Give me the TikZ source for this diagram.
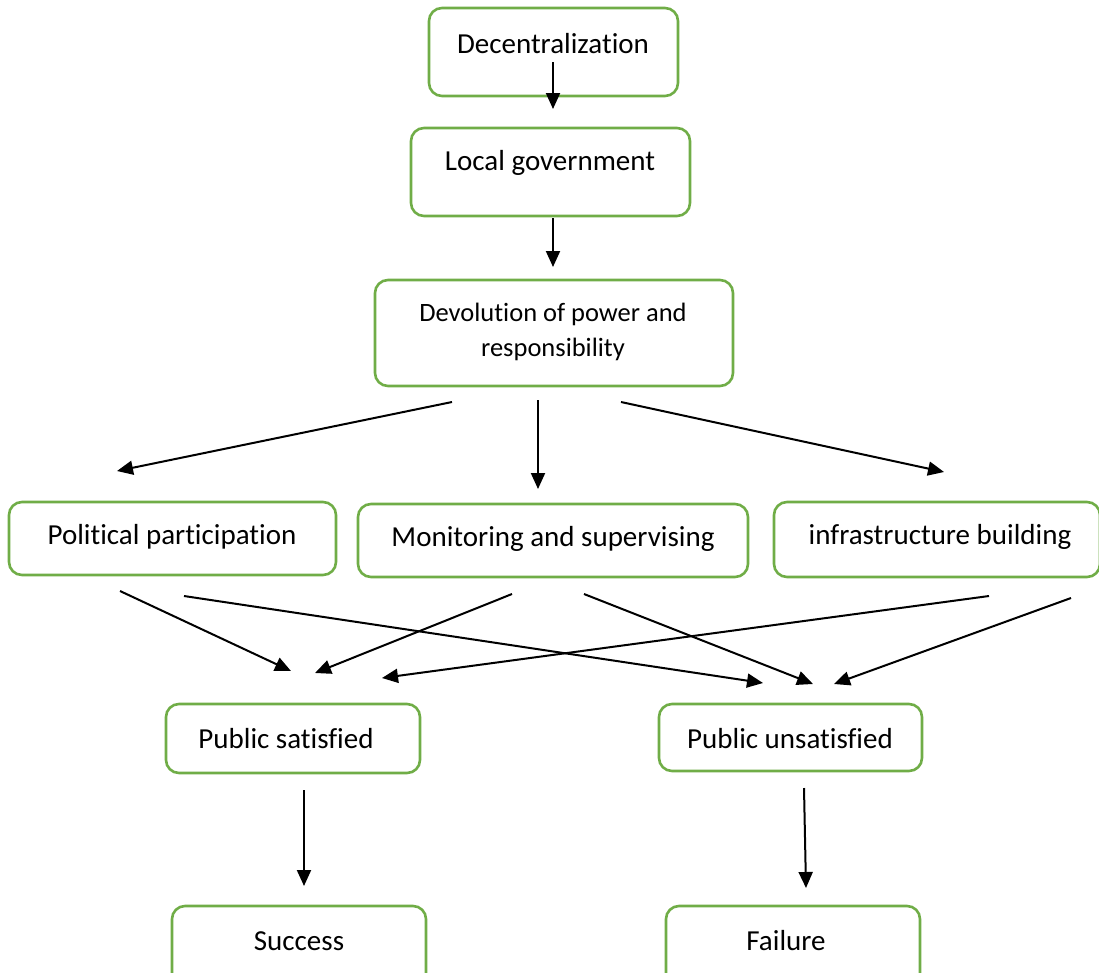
\documentclass[tikz,border=0pt]{standalone}
\usepackage{fontspec}
\setmainfont{Carlito}[Ligatures=NoCommon]
\usetikzlibrary{arrows.meta}
\definecolor{boxgreen}{HTML}{70AD47}
\tikzset{
  box/.style={draw=boxgreen, line width=2.6pt, rounded corners=13pt, fill=white, inner sep=0pt},
  txt/.style={font=\fontsize{29}{34}\selectfont, inner sep=0pt, anchor=center},
  smalltxt/.style={font=\fontsize{26.5}{35}\selectfont, inner sep=0pt, align=center},
  arr/.style={line width=2pt, -{Triangle[length=16pt,width=14pt]}}
}
\begin{document}
\begin{tikzpicture}[x=1pt,y=-1pt]
\useasboundingbox (0,0) rectangle (1099,972);
% boxes
\node[box, minimum width=249, minimum height=88] (dec) at (553.5,52) {};
\node[txt] (dect) at (553,44) {Decentralization};
\node[box, minimum width=279, minimum height=88] (lg) at (550.5,172) {};
\node[txt] (lgt) at (550,163) {Local government};
\node[box, minimum width=358, minimum height=106] (dev) at (554,333) {};
\node[smalltxt] (devt) at (553,332) {Devolution of power and\\responsibility};
\node[box, minimum width=327, minimum height=73] (pp) at (172.5,538.5) {};
\node[txt] (ppt) at (172,537) {Political participation};
\node[box, minimum width=390, minimum height=73] (ms) at (553,540.5) {};
\node[txt] (mst) at (553,539) {Monitoring and supervising};
\node[box, minimum width=326, minimum height=75] (ib) at (937,539.5) {};
\node[txt] (ibt) at (940,537) {infrastructure building};
\node[box, minimum width=254, minimum height=69] (ps) at (293,738.5) {};
\node[txt] (pst) at (286,739) {Public satisfied};
\node[box, minimum width=263, minimum height=67] (pu) at (790.5,737.5) {};
\node[txt] (put) at (790,739) {Public unsatisfied};
\node[box, minimum width=254, minimum height=80] (su) at (299,946) {};
\node[txt] (sut) at (299,941) {Success};
\node[box, minimum width=254, minimum height=80] (fa) at (793,946) {};
\node[txt] (fat) at (786,941) {Failure};
% arrow end points
\coordinate (a1s) at (553,62);   \coordinate (a1e) at (553,109);
\coordinate (a2s) at (553,218);  \coordinate (a2e) at (553,267);
\coordinate (a3s) at (452,402);  \coordinate (a3e) at (117,471);
\coordinate (a4s) at (538,400);  \coordinate (a4e) at (538,489);
\coordinate (a5s) at (621,402);  \coordinate (a5e) at (944,472);
\coordinate (a6s) at (120,591);  \coordinate (a6e) at (291,671);
\coordinate (a7s) at (184,596);  \coordinate (a7e) at (763,683);
\coordinate (a8s) at (512,594);  \coordinate (a8e) at (315,673);
\coordinate (a9s) at (584,594);  \coordinate (a9e) at (813,684);
\coordinate (a10s) at (989,596); \coordinate (a10e) at (382,678);
\coordinate (a11s) at (1071,598);\coordinate (a11e) at (834,684);
\coordinate (a12s) at (304,790); \coordinate (a12e) at (304,886);
\coordinate (a13s) at (804,788); \coordinate (a13e) at (806,888);
\foreach \i in {1,...,13} { \draw[arr] (a\i s) -- (a\i e); }
\end{tikzpicture}
\end{document}
